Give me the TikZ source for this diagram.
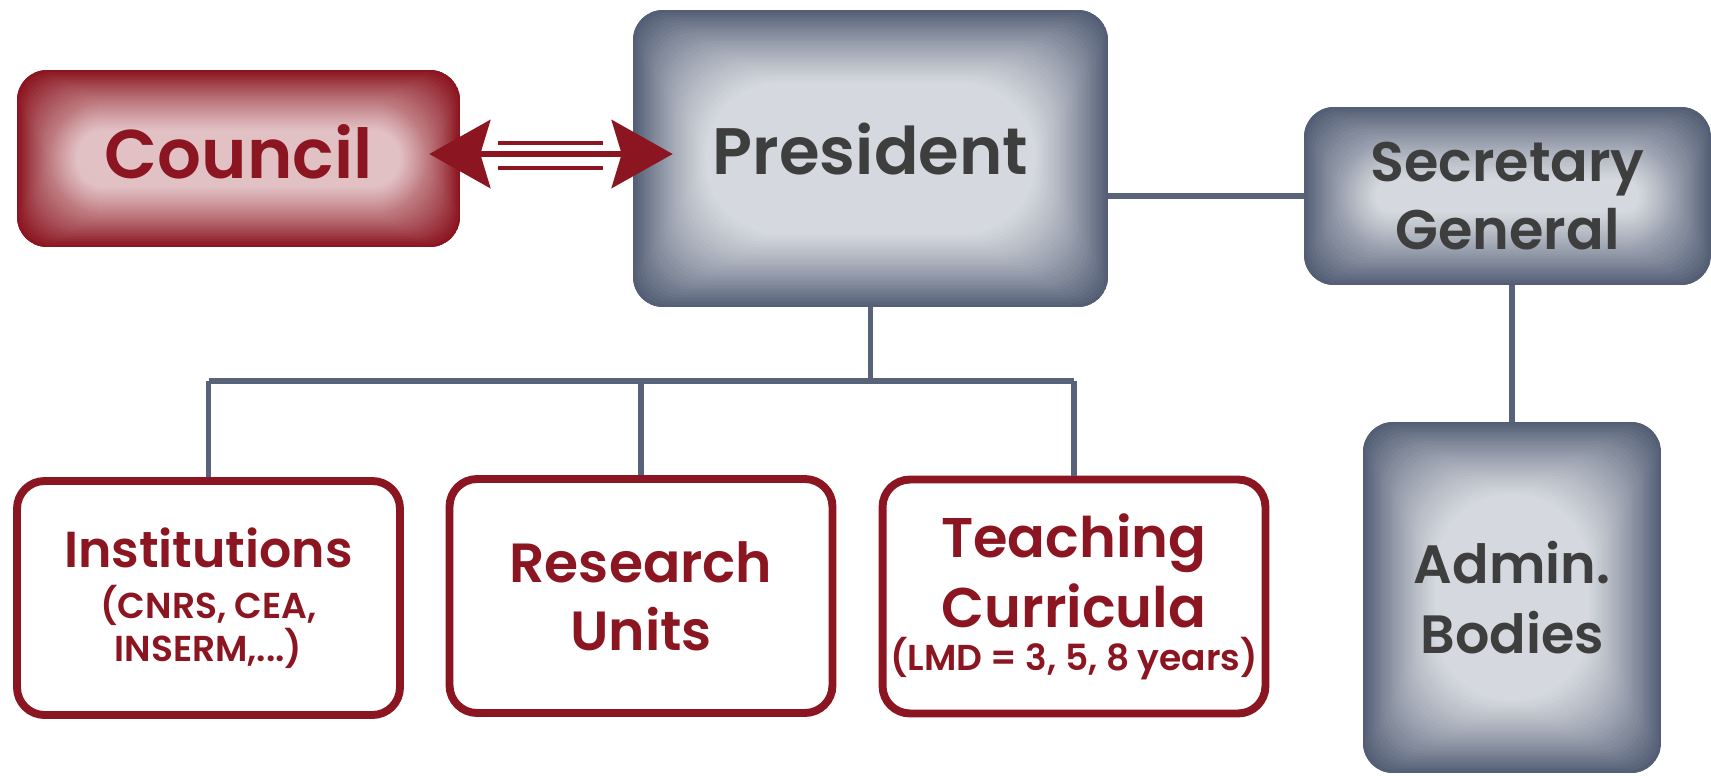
\documentclass[tikz,border=0pt]{standalone}
\usepackage{fontspec}
\setmainfont{Poppins}[BoldFont={Poppins SemiBold}]
\usetikzlibrary{arrows.meta}
\usetikzlibrary{calc}
\usetikzlibrary{positioning}

\definecolor{slateedge}{RGB}{84,95,118}
\definecolor{slatecore}{RGB}{213,216,222}
\definecolor{wine}{RGB}{139,21,32}
\definecolor{winecore}{RGB}{226,193,196}
\definecolor{inkgray}{RGB}{62,62,62}
\definecolor{linkcol}{RGB}{88,99,122}

\tikzset{
  glow/.style n args={3}{path picture={
      \foreach \k in {0,1,...,30} {
        \pgfmathsetmacro\mix{100*(\k/30)*(1.25-0.25*\k/30)}
        \fill[#2!\mix!#1]
          let \p1=(path picture bounding box.south west),
              \p2=(path picture bounding box.north east),
              \n1={max(1pt,min(0.6cm+\k*0.03cm,(\y2-\y1)/2-\k*#3-1pt,(\x2-\x1)/2-\k*#3-1pt))}
          in [rounded corners=\n1]
          ([shift={(\k*#3,\k*#3)}]\p1) rectangle ([shift={(-\k*#3,-\k*#3)}]\p2);
      }}},
  graybox/.style={glow={slateedge}{slatecore}{0.048cm}, fill=slateedge, rounded corners=0.6cm,
    inner sep=0pt, align=center, text=inkgray},
  councilbox/.style={glow={wine}{winecore}{0.04cm}, fill=wine, rounded corners=0.6cm,
    inner sep=0pt, align=center, text=wine},
  unitbox/.style={draw=wine, line width=4.5pt, fill=white, rounded corners=0.55cm,
    inner sep=0pt, align=center, text=wine,
    minimum width=7.66cm, minimum height=4.68cm},
  link/.style={draw=linkcol, line width=3pt},
  bigarrow/.style={draw=wine, line width=3.4pt,
    {Stealth[length=1.22cm,width=1.36cm,inset=0.2cm]}-{Stealth[length=1.22cm,width=1.36cm,inset=0.2cm]}},
  thinbar/.style={draw=wine, line width=2pt}
}

\begin{document}
\begin{tikzpicture}[x=0.02cm, y=-0.02cm]
\useasboundingbox[fill=white] (0,0) rectangle (1711,775);

% top row
\node[councilbox, minimum width=8.86cm, minimum height=3.54cm, text depth=0.3cm,
  font=\bfseries\fontsize{39.2}{44}\selectfont] (council) at (238.5,158.5) {Council};
\node[graybox, minimum width=9.5cm, minimum height=5.94cm, text depth=0.4cm,
  font=\bfseries\fontsize{37.4}{42}\selectfont] (president) at (870.5,158.5) {President};
\node[graybox, minimum width=8.14cm, minimum height=3.56cm,
  font=\bfseries\fontsize{31.7}{38.7}\selectfont] (secretary) at (1507.5,196) {Secretary\\General};
\node[graybox, minimum width=5.96cm, minimum height=7.02cm,
  font=\bfseries\fontsize{30.7}{39.8}\selectfont] (admin) at (1512,597.5) {Admin.\\Bodies};

% bottom row
\node[unitbox, font=\bfseries\fontsize{28.8}{21.6}\selectfont] (inst) at (208.5,598)
  {Institutions\\[7.6pt]{\fontsize{20.5}{21.6}\selectfont (CNRS, CEA,}\\{\fontsize{20.5}{21.6}\selectfont INSERM,...)}};
\node[unitbox, font=\bfseries\fontsize{31.4}{38.7}\selectfont] (research) at (641,596)
  {Research\\Units};
\node[unitbox, font=\bfseries\fontsize{31.8}{39.8}\selectfont] (teach) at (1074,596.5)
  {Teaching\\Curricula\\[-15.3pt]{\fontsize{20.5}{21.6}\selectfont (LMD = 3, 5, 8 years)}};

% council <-> president
\draw[bigarrow, shorten <=-0.62cm, shorten >=-0.8cm]
  ([yshift=0.09cm]council.east) -- ([yshift=0.09cm]president.west);
\draw[thinbar, shorten <=0.76cm, shorten >=0.6cm]
  ([yshift=0.31cm]council.east) -- ([yshift=0.31cm]president.west);
\draw[thinbar, shorten <=0.76cm, shorten >=0.6cm]
  ([yshift=-0.19cm]council.east) -- ([yshift=-0.19cm]president.west);

% tree
\coordinate (bar) at (0,381);
\draw[link] (president.south) -- (president.south |- bar);
\draw[link] (inst.north |- bar) -- (teach.north |- bar);
\foreach \n in {inst,research,teach} {
  \draw[link] (\n.north |- bar) -- (\n.north);
}
\draw[link] (secretary.west) -- (secretary.west -| president.east);
\draw[link] (admin.north |- secretary.south) -- (admin.north);
\end{tikzpicture}
\end{document}
